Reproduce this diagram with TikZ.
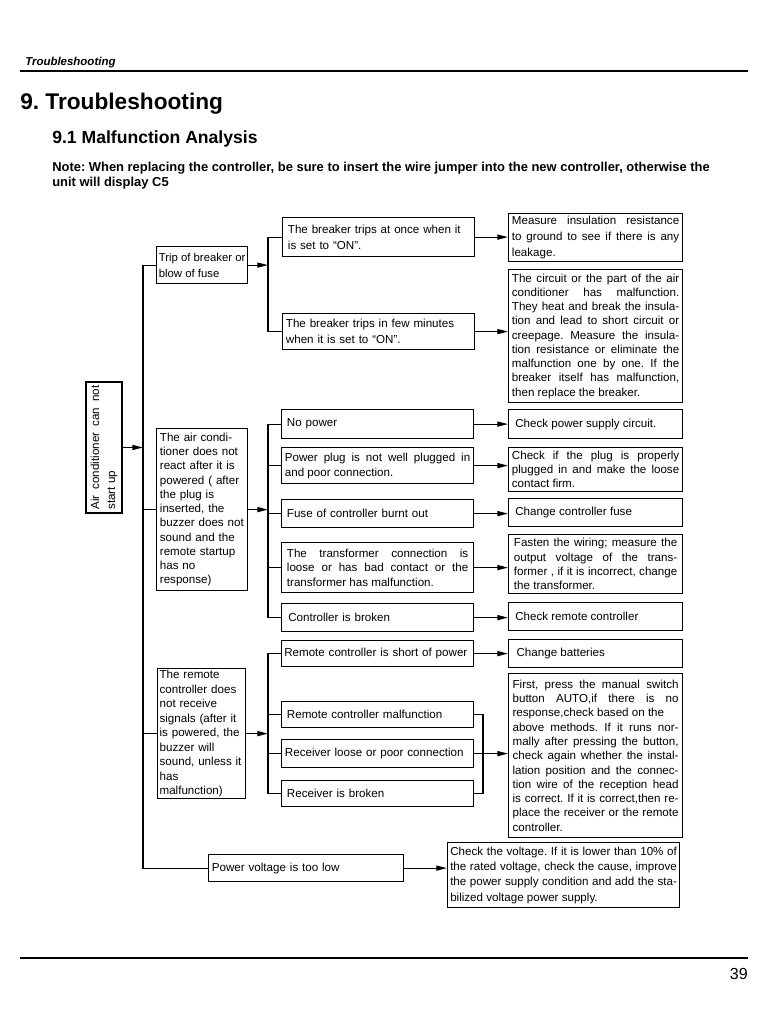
\documentclass[tikz,border=0pt]{standalone}
\usepackage{fontspec}
\setmainfont{Liberation Sans}
\usetikzlibrary{arrows.meta,positioning}
\frenchspacing
\tikzset{
  link/.style={line width=0.9pt},
  arr/.style={link, -{Triangle[length=8pt,width=3.8pt]}},
  cell/.style={draw, line width=0.9pt, anchor=north west, inner xsep=2.5pt, inner ysep=1pt,
    align=left, font=\fontsize{8.7}{10.7}\selectfont},
  symptom/.style={cell, text width=63.25pt},
  cause/.style={cell, text width=139pt},
  remedy/.style={cell, text width=125.5pt, align=justify}
}
\begin{document}
\begin{tikzpicture}[x=0.75pt,y=-0.75pt]
  \useasboundingbox (0,0) rectangle (768,1024);
  \fill[white] (0,0) rectangle (768,1024);
  % page head
  \node[anchor=base west, inner sep=0, font=\fontsize{8.6}{10}\selectfont\bfseries\itshape] (hdr) at (25,66) {Troubleshooting};
  \draw[line width=2.2pt] (20,71) -- (748,71);
  \node[anchor=base west, inner sep=0, font=\fontsize{17}{20}\selectfont\bfseries] (title) at (20,109.5) {9. Troubleshooting};
  \node[anchor=base west, inner sep=0, font=\fontsize{13.2}{16}\selectfont\bfseries] (subtitle) at (52,143.5) {9.1 Malfunction Analysis};
  \node[anchor=north west, inner sep=0, align=left, font=\fontsize{9.7}{11.5}\selectfont\bfseries] (note) at (52,161.5)
    {Note: When replacing the controller, be sure to insert the wire jumper into the new controller, otherwise the\\unit will display C5};

  % root
  \node[cell, rotate=90, anchor=center, minimum width=98.25pt, minimum height=27pt, text width=93pt,
    align=justify, font=\fontsize{8.7}{12}\selectfont] (start) at (104,447.5) {Air conditioner can not\linebreak start up};
  \coordinate (trunk) at (143,0);
  \coordinate (fork) at (268,0);
  \coordinate (join) at (483,0);

  % first level
  \node[cell, inner xsep=1pt, minimum width=68.25pt, minimum height=27.75pt, font=\fontsize{8.5}{12}\selectfont] (trip) at (156,246) {Trip of breaker or\\blow of fuse\hfill\null};
  \node[symptom, minimum height=121.5pt] (noreact) at (156,428) {The air condi-\\tioner does not\\react after it is\\powered ( after\\the plug is\\inserted, the\\buzzer does not\\sound and the\\remote startup\\has no\\response)};
  \node[symptom, inner xsep=1.5pt, text width=63pt, minimum height=97.5pt, font=\fontsize{8.7}{10.9}\selectfont] (nosignal) at (157,668) {The remote\\controller does\\not receive\\signals (after it\\is powered, the\\buzzer will\\sound, unless it\\has\\malfunction)};
  \node[cell, text width=141.25pt, minimum height=20.25pt] (lowvolt) at (208,854) {Power voltage is too low};

  % breaker
  \node[cause, inner xsep=4pt, text width=136pt, minimum height=29.25pt, font=\fontsize{8.7}{12}\selectfont] (atonce) at (282,217) {The breaker trips at once when it\\is set to “ON”.};
  \node[cause, minimum height=27pt, font=\fontsize{8.7}{12}\selectfont] (fewmin) at (282,313) {The breaker trips in few minutes\\when it is set to “ON”.};
  \node[remedy, minimum height=36pt, font=\fontsize{8.7}{12}\selectfont] (insul) at (508,213) {Measure insulation resistance\linebreak to ground to see if there is any\linebreak leakage.};
  \node[remedy, minimum height=99.75pt] (circuit) at (508,269) {The circuit or the part of the air\linebreak conditioner has malfunction.\linebreak They heat and break the insula-\linebreak tion and lead to short circuit or\linebreak creepage. Measure the insula-\linebreak tion resistance or eliminate the\linebreak malfunction one by one. If the\linebreak breaker itself has malfunction,\linebreak then replace the breaker.};

  % no reaction
  \node[cause, inner xsep=4pt, text width=136pt, minimum height=21.75pt] (nopow) at (281,409) {No power};
  \node[cause, minimum height=27pt, align=justify, font=\fontsize{8.7}{11.25}\selectfont] (plug) at (281,447) {Power plug is not well plugged in\linebreak and poor connection.};
  \node[cause, inner xsep=4pt, text width=136pt, minimum height=21pt] (fuse) at (281,499) {Fuse of controller burnt out};
  \node[cause, inner xsep=4pt, text width=136pt, minimum height=37.5pt, align=justify, font=\fontsize{8.7}{10.9}\selectfont] (trans) at (281,542) {The transformer connection is\linebreak loose or has bad contact or the\linebreak transformer has malfunction.};
  \node[cause, inner xsep=5pt, text width=134pt, minimum height=21pt] (ctrl) at (281,603) {Controller is broken};
  \node[remedy, inner xsep=5pt, text width=120.5pt, minimum height=21.75pt] (chkpow) at (508,409) {Check power supply circuit.};
  \node[remedy, minimum height=33pt, font=\fontsize{8.7}{10.5}\selectfont] (chkplug) at (508,447) {Check if the plug is properly\linebreak plugged in and make the loose\linebreak contact firm.};
  \node[remedy, inner xsep=5pt, text width=120.5pt, minimum height=21pt] (chgfuse) at (508,498) {Change controller fuse};
  \node[remedy, inner xsep=4pt, text width=122.5pt, minimum height=44.25pt] (fasten) at (508,534) {Fasten the wiring; measure the\linebreak output voltage of the trans-\linebreak former , if it is incorrect, change\linebreak the transformer.};
  \node[remedy, inner xsep=5pt, text width=120.5pt, minimum height=21pt] (chkrem) at (508,602) {Check remote controller};

  % remote
  \node[cause, inner xsep=2pt, text width=140pt, minimum height=19.5pt] (short) at (281,640) {Remote controller is short of power};
  \node[cause, inner xsep=4pt, text width=136pt, minimum height=19.5pt] (remmal) at (281,701) {Remote controller malfunction};
  \node[cause, minimum height=21pt] (recloose) at (281,739) {Receiver loose or poor connection};
  \node[cause, inner xsep=4pt, text width=136pt, minimum height=19.5pt] (recbroken) at (281,780) {Receiver is broken};
  \node[remedy, inner xsep=6pt, text width=118.5pt, minimum height=21pt] (batt) at (508,639) {Change batteries};
  \node[remedy, inner xsep=3pt, text width=124.5pt, minimum height=123pt] (manual) at (508,673) {First, press the manual switch\linebreak button AUTO,if there is no\linebreak response,check based on the\\above methods. If it runs nor-\linebreak mally after pressing the button,\linebreak check again whether the instal-\linebreak lation position and the connec-\linebreak tion wire of the reception head\linebreak is correct. If it is correct,then re-\linebreak place the receiver or the remote\linebreak controller.};

  % low voltage
  \node[cell, inner xsep=2pt, text width=170pt, align=justify, minimum height=48.75pt, font=\fontsize{8.7}{11.5}\selectfont] (chkvolt) at (447,842) {Check the voltage. If it is lower than 10\% of\linebreak the rated voltage, check the cause, improve\linebreak the power supply condition and add the sta-\linebreak bilized voltage power supply.};

  % connectors
  \draw[arr] (start.south) -- (start.south -| trunk);
  \draw[link] (trip.west) -| (trunk |- lowvolt.west) -- (lowvolt.west);
  \foreach \n in {noreact,nosignal}
    \draw[link] (\n.west) -- (\n.west -| trunk);
  \foreach \n in {trip,noreact,nosignal}
    \draw[arr] (\n.east) -- (\n.east -| fork);
  \draw[link] (atonce.west) -| (fork |- fewmin.west) -- (fewmin.west);
  \draw[link] (nopow.west) -| (fork |- ctrl.west) -- (ctrl.west);
  \draw[link] (short.west) -| (fork |- recbroken.west) -- (recbroken.west);
  \foreach \n in {plug,fuse,trans,remmal,recloose}
    \draw[link] (\n.west) -- (\n.west -| fork);
  \draw[link] (remmal.east) -| (join |- recbroken.east) -- (recbroken.east);
  \foreach \a/\b in {atonce/insul,fewmin/circuit,nopow/chkpow,plug/chkplug,fuse/chgfuse,trans/fasten,ctrl/chkrem,short/batt,recloose/manual,lowvolt/chkvolt}
    \draw[arr] (\a.east) -- (\a.east -| \b.west);

  % page foot
  \draw[line width=1.6pt] (20,958) -- (748,958);
  \node[anchor=base east, inner sep=0, font=\fontsize{12}{14}\selectfont] (pageno) at (748,979) {39};
\end{tikzpicture}
\end{document}
